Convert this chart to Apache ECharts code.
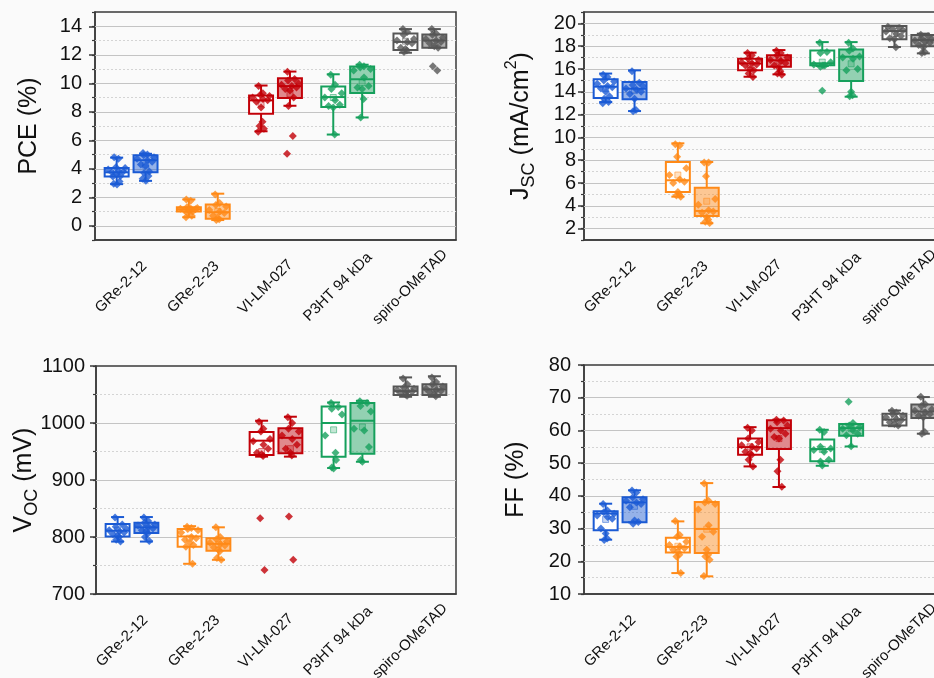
<!DOCTYPE html>
<html><head><meta charset="utf-8">
<script src="https://cdn.jsdelivr.net/npm/echarts@6/dist/echarts.min.js"></script>
<style>html,body{margin:0;padding:0;background:#fafafa}#c{width:934px;height:678px}</style>
</head><body><div id="c"></div>
<script>
// ---------------- DATA ----------------
const categories = ['GRe-2-12', 'GRe-2-23', 'VI-LM-027', 'P3HT 94 kDa', 'spiro-OMeTAD'];
// Box stats per box [min, Q1, median, Q3, max, mean]; order: cat0 box1, cat0 box2, cat1 box1, ...
const pceBoxes = [
  [2.92, 3.45, 3.75, 4.05, 4.78, 3.8], [3.15, 3.75, 4.6, 4.95, 5.05, 4.25],
  [0.6, 1.0, 1.15, 1.3, 1.85, 1.15], [0.4, 0.5, 0.95, 1.5, 2.25, 1.0],
  [6.63, 7.86, 8.8, 9.14, 9.84, 8.56], [8.42, 8.96, 9.8, 10.35, 10.82, 9.26],
  [6.4, 8.33, 9.03, 9.77, 10.63, 9.0], [7.6, 9.31, 10.28, 11.17, 11.3, 10.05],
  [12.14, 12.33, 12.9, 13.49, 13.8, 12.95], [12.5, 12.5, 13.0, 13.42, 13.8, 12.85]
];
const pcePoints = [
  [4.8, 4.7, 4.1, 4.05, 3.95, 3.85, 3.8, 3.75, 3.6, 3.5, 3.45, 3.1, 2.95, 2.9],
  [5.1, 5.0, 4.95, 4.8, 4.7, 4.6, 4.5, 4.3, 4.2, 3.8, 3.7, 3.5, 3.3, 3.15],
  [1.85, 1.75, 1.3, 1.25, 1.2, 1.2, 1.15, 1.1, 1.05, 1.0, 0.9, 0.7, 0.6],
  [2.2, 1.6, 1.45, 1.35, 1.1, 1.0, 0.9, 0.7, 0.55, 0.45, 0.4],
  [9.8, 9.3, 9.2, 9.1, 9.0, 8.9, 8.8, 8.7, 8.3, 7.3, 7.0, 6.8, 6.6],
  [10.8, 10.3, 10.2, 10.0, 9.9, 9.8, 9.7, 9.6, 9.5, 9.0, 8.4, 6.3, 5.05],
  [10.6, 9.9, 9.6, 9.3, 9.0, 8.8, 8.5, 8.4, 8.3, 6.4],
  [11.3, 11.2, 11.1, 11.0, 10.9, 10.4, 9.8, 9.7, 9.6, 8.9, 7.6],
  [13.8, 13.6, 13.4, 13.1, 13.0, 12.9, 12.8, 12.5, 12.4, 12.3, 12.2],
  [13.8, 13.5, 13.4, 13.2, 13.1, 13.0, 12.9, 12.8, 12.6, 12.5, 11.2, 10.9]
];
const jscBoxes = [
  [13.1, 13.45, 14.45, 15.09, 15.6, 14.3], [12.31, 13.34, 14.27, 14.86, 15.88, 14.1],
  [4.8, 5.21, 6.24, 7.84, 9.48, 6.7], [2.47, 3.11, 3.55, 5.59, 7.84, 4.4],
  [15.32, 15.9, 16.49, 16.9, 17.43, 16.4], [15.53, 16.2, 16.76, 17.2, 17.66, 16.7],
  [16.26, 16.32, 16.5, 17.63, 18.36, 16.6], [13.57, 14.94, 17.08, 17.72, 18.36, 16.46],
  [17.93, 18.6, 19.33, 19.77, 19.8, 19.1], [17.37, 18.0, 18.54, 18.98, 19.1, 18.4]
];
const jscPoints = [
  [15.5, 15.3, 15.0, 14.9, 14.7, 14.5, 14.4, 14.3, 14.0, 13.6, 13.4, 13.1, 13.0],
  [15.8, 14.8, 14.6, 14.5, 14.3, 14.2, 14.0, 13.8, 13.4, 12.4, 12.3],
  [9.4, 9.3, 8.3, 7.3, 6.7, 6.3, 6.1, 6.0, 5.2, 5.0, 4.9, 4.8],
  [7.8, 7.8, 6.6, 4.6, 4.1, 3.6, 3.5, 3.4, 3.0, 2.8, 2.6, 2.5],
  [17.4, 17.2, 16.9, 16.8, 16.6, 16.5, 16.4, 16.3, 16.0, 15.9, 15.6, 15.3],
  [17.6, 17.4, 17.2, 17.0, 16.8, 16.7, 16.5, 16.3, 16.1, 15.8, 15.6, 15.5],
  [18.3, 17.5, 17.4, 16.6, 16.4, 16.3, 16.3, 16.2, 14.1],
  [18.3, 17.8, 17.6, 17.1, 17.0, 16.9, 16.0, 15.9, 14.0, 13.7, 13.6],
  [19.7, 19.6, 19.5, 19.4, 19.3, 19.1, 18.9, 18.7, 18.6, 17.9],
  [19.0, 18.9, 18.7, 18.6, 18.5, 18.4, 18.3, 18.1, 17.9, 17.5, 17.4]
];
const vocBoxes = [
  [792, 801, 811, 823, 835, 812], [792, 807, 817, 825, 835, 815],
  [753, 783, 801, 814, 819, 798], [760, 776, 788, 798, 817, 787],
  [941, 944, 969, 984, 1004, 950], [941, 947, 974, 991, 1011, 955],
  [921, 941, 1000, 1029, 1036, 988], [932, 946, 1004, 1035, 1039, 993],
  [1046, 1049, 1056, 1064, 1080, 1058], [1046, 1049, 1059, 1068, 1082, 1060]
];
const vocPoints = [
  [834, 822, 818, 815, 812, 810, 808, 805, 802, 800, 795, 792],
  [834, 828, 825, 822, 820, 818, 815, 812, 810, 806, 800, 793],
  [818, 816, 814, 812, 808, 800, 798, 795, 790, 786, 783, 753],
  [817, 800, 796, 792, 790, 788, 785, 782, 778, 775, 763, 760],
  [1002, 990, 985, 972, 968, 962, 955, 948, 945, 942, 833, 742],
  [1010, 1000, 990, 985, 978, 972, 962, 955, 948, 943, 836, 760],
  [1035, 1028, 1025, 1015, 978, 948, 935, 922, 920],
  [1038, 1035, 1030, 1020, 990, 987, 958, 935, 932],
  [1078, 1068, 1062, 1060, 1058, 1056, 1055, 1053, 1050, 1048],
  [1080, 1072, 1068, 1064, 1060, 1058, 1056, 1054, 1050, 1047]
];
const ffBoxes = [
  [26.6, 29.5, 34.6, 35.3, 37.6, 32.8], [31.9, 31.9, 38.0, 39.6, 41.7, 36.8],
  [16.4, 22.7, 24.4, 27.2, 32.2, 24.6], [15.4, 22.5, 29.9, 38.1, 43.9, 29.8],
  [49.0, 52.6, 54.9, 57.5, 61.0, 55.0], [42.7, 54.3, 60.7, 63.1, 63.3, 57.5],
  [49.2, 50.6, 54.3, 57.2, 60.2, 54.2], [55.1, 58.4, 60.7, 62.0, 62.0, 60.5],
  [61.3, 61.5, 63.3, 65.1, 66.1, 63.5], [59.0, 63.8, 65.8, 67.9, 70.2, 65.5]
];
const ffPoints = [
  [37.5, 35.5, 35.0, 34.5, 34.0, 33.5, 33.0, 30.0, 28.5, 27.0, 26.5],
  [41.6, 41.0, 39.5, 39.0, 38.5, 38.0, 37.5, 36.5, 32.5, 32.0, 31.5],
  [32.3, 28.0, 27.5, 26.0, 25.0, 24.5, 24.0, 23.5, 23.0, 22.0, 21.5, 16.4],
  [43.8, 38.5, 38.0, 37.5, 35.8, 31.0, 29.0, 27.5, 23.5, 22.0, 21.5, 20.5, 15.5],
  [60.8, 60.0, 57.5, 56.5, 55.5, 55.0, 54.5, 53.5, 53.0, 52.5, 51.0, 49.0],
  [63.3, 63.0, 62.5, 61.5, 60.5, 60.0, 59.0, 58.0, 57.5, 51.0, 47.5, 42.8],
  [60.2, 59.5, 55.0, 54.5, 54.0, 53.5, 51.0, 50.5, 49.3],
  [68.8, 62.3, 61.5, 61.0, 60.5, 60.0, 59.0, 58.5, 55.2],
  [66.0, 65.5, 65.0, 64.5, 64.0, 63.5, 63.0, 62.5, 62.0, 61.5],
  [70.3, 68.0, 67.5, 66.5, 66.0, 65.5, 65.0, 64.5, 64.0, 59.5, 59.0]
];

// ---------------- STYLE / LAYOUT ----------------
const colors = ['#1a5ad4', '#ff8a18', '#c20008', '#16a05c', '#565656'];
const FONT = "'Liberation Sans', Arial, sans-serif";
const jitter = [-0.7, 0.5, -0.2, 0.9, -0.9, 0.2, 0.7, -0.5, 0.0, 0.4, -0.4, 0.8, -0.8, 0.1];
const panels = [
  { boxes: pceBoxes, points: pcePoints, name: '{a|PCE (%)}', min: -1, max: 15, minor: 1, major: 2,
    grid: { left: 95, top: 12, width: 361, height: 228 }, nameGap: 49, labelMargin: 13 },
  { boxes: jscBoxes, points: jscPoints, name: '{a|J}{s|SC}{a| (mA/cm}{p|2}{a|)}', min: 1, max: 21, minor: 1, major: 2,
    grid: { left: 584, top: 12, width: 361, height: 228 }, nameGap: 46, labelMargin: 8 },
  { boxes: vocBoxes, points: vocPoints, name: '{a|V}{s|OC}{a| (mV)}', min: 700, max: 1100, minor: 50, major: 100,
    grid: { left: 96, top: 366, width: 360, height: 228 }, nameGap: 55, labelMargin: 11 },
  { boxes: ffBoxes, points: ffPoints, name: '{a|FF (%)}', min: 10, max: 80, minor: 5, major: 10,
    grid: { left: 584, top: 365, width: 361, height: 229 }, nameGap: 51, labelMargin: 13 }
];

const isMajor = (v, major) => Math.abs(v / major - Math.round(v / major)) < 1e-6;
const nameRich = {
  a: { fontSize: 25, lineHeight: 34, verticalAlign: 'middle', color: '#111', fontFamily: FONT },
  s: { fontSize: 18, lineHeight: 18, verticalAlign: 'bottom', color: '#111', fontFamily: FONT },
  p: { fontSize: 16, lineHeight: 16, verticalAlign: 'top', color: '#111', fontFamily: FONT }
};

function renderBox(params, api) {
  const x = api.value(0), mn = api.value(1), q1 = api.value(2), md = api.value(3),
        q3 = api.value(4), mx = api.value(5), mean = api.value(6), filled = api.value(7), ci = api.value(8);
  const c = colors[ci];
  const hw = 0.166, cw = 0.09;
  const P = (dx, v) => api.coord([x + dx, v]);
  const ln = (a, b) => ({ type: 'line', shape: { x1: a[0], y1: a[1], x2: b[0], y2: b[1] }, style: { stroke: c, lineWidth: 2 } });
  const tl = P(-hw, q3), br = P(hw, q1), m = P(0, mean);
  const tint = echarts.color.modifyAlpha(c, 0.45);
  return {
    type: 'group',
    children: [
      ln(P(0, mx), P(0, q3)), ln(P(0, q1), P(0, mn)),
      ln(P(-cw, mx), P(cw, mx)), ln(P(-cw, mn), P(cw, mn)),
      { type: 'rect', shape: { x: tl[0], y: tl[1], width: br[0] - tl[0], height: br[1] - tl[1] },
        style: { fill: filled ? tint : '#ffffff', stroke: c, lineWidth: 2 } },
      ln(P(-hw, md), P(hw, md)),
      { type: 'rect', shape: { x: m[0] - 3, y: m[1] - 3, width: 6, height: 6 },
        style: { fill: echarts.color.modifyAlpha(c, 0.25), stroke: echarts.color.modifyAlpha(c, 0.5), lineWidth: 1 } }
    ]
  };
}

const option = {
  backgroundColor: '#fafafa', animation: false, textStyle: { fontFamily: FONT },
  grid: [], xAxis: [], yAxis: [], series: []
};

panels.forEach((p, k) => {
  option.grid.push(Object.assign({ show: true, borderColor: '#3a3a3a', borderWidth: 1.5, backgroundColor: '#fafafa',
    outerBoundsMode: 'none', containLabel: false }, p.grid));
  // visible category axis
  option.xAxis.push({
    type: 'category', gridIndex: k, data: categories, position: 'bottom',
    axisLine: { onZero: false, lineStyle: { color: '#3a3a3a', width: 1.5 } },
    axisTick: { alignWithLabel: true, length: 6, lineStyle: { color: '#3a3a3a', width: 1.5 } },
    axisLabel: { interval: 0, rotate: 45, fontSize: 15, color: '#111', margin: 57,
      align: 'center', verticalAlign: 'bottom', lineHeight: 28, fontFamily: FONT },
    splitLine: { show: false }
  });
  // hidden value axis for placing boxes & points
  option.xAxis.push({ type: 'value', gridIndex: k, min: -0.5, max: 4.5, show: false, axisLine: { onZero: false } });

  const majors = [], minors = [];
  for (let v = p.min; v <= p.max + 1e-9; v += p.minor) {
    const t = +v.toFixed(6);
    if (isMajor(t, p.major)) majors.push(t); else minors.push(t);
  }
  // A: labels, axis line, name, minor ticks
  option.yAxis.push({
    type: 'value', gridIndex: k, position: 'left', min: p.min, max: p.max, interval: p.minor,
    name: p.name, nameLocation: 'middle', nameGap: p.nameGap, nameMoveOverlap: false,
    nameTextStyle: { fontSize: 25, color: '#111', fontFamily: FONT, rich: nameRich },
    axisLine: { show: true, onZero: false, lineStyle: { color: '#3a3a3a', width: 1.5 } },
    axisTick: { show: true, length: 3, lineStyle: { color: '#3a3a3a', width: 1.2 } },
    axisLabel: { fontSize: 20, color: '#111', margin: p.labelMargin, fontFamily: FONT,
      formatter: v => isMajor(v, p.major) ? String(Math.round(v)) : '' },
    splitLine: { show: false }
  });
  // C: major ticks
  option.yAxis.push({
    type: 'value', gridIndex: k, position: 'left', min: p.min, max: p.max,
    axisLine: { show: false, onZero: false }, axisLabel: { show: false }, splitLine: { show: false },
    axisTick: { show: true, length: 6, customValues: majors, lineStyle: { color: '#3a3a3a', width: 1.5 } }
  });

  const gridLines = majors.filter(v => v > p.min && v < p.max).map(v => ({ yAxis: v, lineStyle: { color: '#c4c4c4', type: 'solid', width: 1.2 } }))
    .concat(minors.filter(v => v > p.min && v < p.max).map(v => ({ yAxis: v, lineStyle: { color: '#d4d4d4', type: [2, 2], width: 1 } })));

  const boxData = p.boxes.map((st, b) => {
    const cat = Math.floor(b / 2);
    return [cat + (b % 2 ? 0.2 : -0.2)].concat(st, [b % 2, cat]);
  });
  option.series.push({
    type: 'custom', xAxisIndex: 2 * k + 1, yAxisIndex: 2 * k, z: 2,
    renderItem: renderBox, encode: { x: 0, y: [1, 2, 3, 4, 5] }, data: boxData, clip: true,
    markLine: { silent: true, symbol: ['none', 'none'], label: { show: false }, z: 1, animation: false, data: gridLines }
  });

  const pts = [];
  p.points.forEach((arr, b) => {
    const cat = Math.floor(b / 2), side = b % 2 ? 0.2 : -0.2, st = p.boxes[b];
    arr.forEach((v, j) => {
      const inside = v >= st[1] && v <= st[3];
      const dx = jitter[j % jitter.length] * (inside ? 0.13 : 0.05);
      pts.push({ value: [cat + side + dx, v], itemStyle: { color: colors[cat] } });
    });
  });
  option.series.push({
    type: 'scatter', xAxisIndex: 2 * k + 1, yAxisIndex: 2 * k, z: 3,
    symbol: 'diamond', symbolSize: 8, data: pts, clip: true
  });
});

const chart = echarts.init(document.getElementById('c'));
chart.setOption(option);
</script></body></html>
